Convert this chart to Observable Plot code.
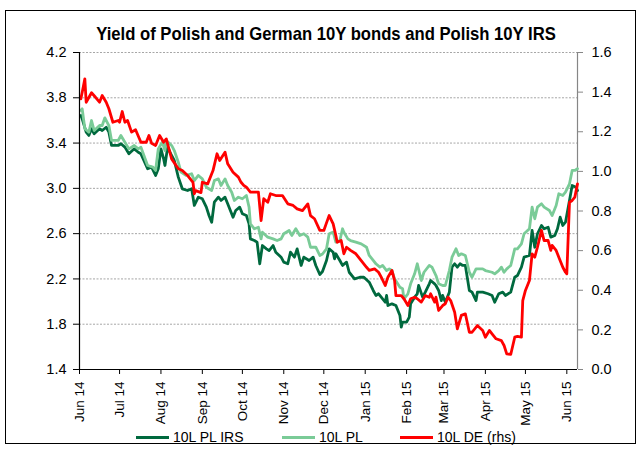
<!DOCTYPE html>
<html><head><meta charset="utf-8">
<script src="https://cdn.jsdelivr.net/npm/d3@7"></script>
<script src="https://cdn.jsdelivr.net/npm/@observablehq/plot@0.6"></script>
<style>
body{margin:0;background:#fff;font-family:"Liberation Sans",Arial,sans-serif;color:#000;}
#frame{position:absolute;left:5px;top:10px;width:631px;height:434px;border:1px solid #000;box-sizing:border-box;}
#title{position:absolute;left:0;width:652px;top:23px;text-align:center;font-weight:bold;font-size:18.5px;line-height:22px;transform:scaleX(0.9);transform-origin:326px 0;}
#chart{position:absolute;left:0;top:0;}
.leg{position:absolute;top:428px;height:18px;display:flex;align-items:center;font-size:14px;white-space:nowrap;}
.leg .sw{display:inline-block;width:33px;height:3px;margin-right:4px;}
</style>
</head><body>
<div id="frame"></div>
<div id="title"></div>
<div id="chart"></div>
<div id="legend"></div>
<script>
const titleText = "Yield of Polish and German 10Y bonds and Polish 10Y IRS";
const seriesNames = ["10L PL IRS", "10L PL", "10L DE (rhs)"];
const seriesColors = ["#00693e", "#7acb97", "#ff0000"];
const legendLeft = [136, 282, 400];

const leftTicks = [1.4, 1.8, 2.2, 2.6, 3.0, 3.4, 3.8, 4.2];
const rightTicks = [0.0, 0.2, 0.4, 0.6, 0.8, 1.0, 1.2, 1.4, 1.6];
const monthLabels = ["Jun 14","Jul 14","Aug 14","Sep 14","Oct 14","Nov 14","Dec 14","Jan 15","Feb 15","Mar 15","Apr 15","May 15","Jun 15"];
const monthStarts = [[2014,5],[2014,6],[2014,7],[2014,8],[2014,9],[2014,10],[2014,11],[2015,0],[2015,1],[2015,2],[2015,3],[2015,4],[2015,5]];

// days counted from 2014-06-01
const xEndDay = 373;
const irsDay = [1,2,5,7,9,11,15,17,20,22,24,29,31,34,37,41,44,46,51,54,57,59,61,63,64,66,69,71,74,77,81,84,86,89,92,95,97,99,101,104,106,109,111,115,117,120,122,125,127,128,131,133,135,137,140,142,145,147,151,153,156,158,161,163,166,168,172,175,177,180,182,185,187,190,191,192,195,197,200,202,206,210,213,217,220,222,224,226,229,230,231,234,237,240,241,242,245,247,248,251,253,254,257,259,262,263,266,267,269,271,272,274,277,279,281,283,285,287,289,292,294,297,298,302,306,309,311,314,317,319,323,326,328,331,333,337,339,341,343,346,348,351,353,356,358,360,362,364,367,369,372,373];
const irsVal = [3.644,3.614,3.496,3.467,3.526,3.482,3.526,3.511,3.540,3.496,3.379,3.379,3.394,3.364,3.305,3.349,3.319,3.305,3.173,3.187,3.114,3.173,3.349,3.261,3.202,3.364,3.290,3.246,3.099,2.996,2.981,2.996,2.849,2.922,2.908,2.834,2.760,2.701,2.878,2.922,2.893,2.922,2.864,2.745,2.804,2.834,2.775,2.760,2.687,2.554,2.539,2.525,2.334,2.495,2.466,2.451,2.495,2.436,2.392,2.348,2.334,2.436,2.392,2.466,2.319,2.392,2.363,2.392,2.319,2.239,2.266,2.363,2.466,2.436,2.378,2.422,2.363,2.319,2.348,2.259,2.201,2.215,2.215,2.171,2.098,2.054,2.069,2.039,1.994,2.054,1.965,1.980,1.965,1.877,1.774,1.818,1.818,1.862,1.980,2.039,2.069,2.142,2.039,2.083,2.157,2.186,2.157,2.142,2.098,2.009,2.054,1.994,2.083,2.304,2.334,2.304,2.334,2.319,2.319,2.098,2.083,2.009,2.083,2.083,2.069,2.054,1.994,2.069,2.083,2.054,2.083,2.215,2.230,2.304,2.392,2.407,2.628,2.480,2.599,2.672,2.643,2.657,2.569,2.584,2.643,2.745,2.672,2.701,2.893,3.025,3.010,2.981];

const plDay = [1,2,4,7,9,11,15,17,19,22,24,29,31,34,37,41,44,46,51,55,57,59,62,64,65,69,71,74,76,80,84,86,89,92,95,99,101,104,106,109,111,114,116,119,122,125,127,128,131,134,136,137,141,145,148,151,153,157,159,162,165,168,171,173,177,180,182,185,187,190,192,195,197,198,201,203,207,211,215,217,220,222,225,227,230,232,234,236,240,242,243,246,248,251,253,256,258,262,264,267,269,272,274,277,279,282,284,286,289,292,294,297,302,304,309,311,314,316,318,320,323,326,328,331,333,337,339,341,343,346,348,352,354,357,359,362,364,367,369,371,373];
const plVal = [3.688,3.703,3.526,3.496,3.599,3.511,3.555,3.555,3.623,3.555,3.423,3.423,3.467,3.408,3.349,3.379,3.349,3.364,3.202,3.187,3.158,3.349,3.408,3.334,3.423,3.379,3.334,3.231,3.143,3.114,3.129,3.069,3.114,3.084,3.010,2.981,3.069,3.084,3.025,3.084,3.025,2.966,2.893,2.922,2.908,2.937,2.834,2.687,2.643,2.657,2.554,2.613,2.569,2.554,2.539,2.554,2.599,2.628,2.584,2.643,2.584,2.599,2.569,2.480,2.480,2.407,2.420,2.466,2.599,2.613,2.525,2.539,2.643,2.613,2.554,2.539,2.525,2.510,2.480,2.407,2.363,2.334,2.304,2.319,2.274,2.289,2.274,2.201,2.127,2.113,2.024,2.069,2.157,2.245,2.334,2.186,2.259,2.319,2.304,2.230,2.157,2.142,2.142,2.274,2.392,2.466,2.407,2.422,2.407,2.259,2.215,2.289,2.289,2.274,2.259,2.245,2.274,2.304,2.259,2.289,2.319,2.466,2.466,2.510,2.599,2.643,2.834,2.731,2.834,2.864,2.834,2.804,2.760,2.849,2.952,2.937,2.966,3.040,3.158,3.158,3.173];

const deDay = [1,2,4,5,9,12,15,17,20,22,25,29,30,32,34,36,39,42,46,50,52,54,57,60,63,65,69,74,77,81,85,86,87,91,92,96,100,103,105,109,111,115,119,121,123,125,128,134,136,138,141,143,147,152,156,160,163,167,171,173,176,180,183,185,187,190,192,193,196,198,200,203,207,211,215,217,221,224,226,229,231,234,236,237,241,243,246,248,251,253,256,259,262,263,266,267,269,272,274,276,278,281,283,286,289,292,294,298,302,304,307,309,312,316,318,320,323,326,328,331,332,334,337,339,341,343,346,348,351,353,354,357,359,362,364,365,367,369,371,373];
const deVal = [1.366,1.398,1.467,1.349,1.397,1.374,1.349,1.383,1.349,1.316,1.248,1.257,1.248,1.302,1.248,1.257,1.198,1.210,1.147,1.147,1.181,1.142,1.131,1.181,1.147,1.164,1.063,1.013,1.004,0.979,0.945,0.887,0.903,0.893,0.945,0.937,1.004,1.089,1.055,1.097,1.038,0.996,0.971,0.945,0.929,0.920,0.895,0.895,0.752,0.862,0.844,0.887,0.878,0.878,0.836,0.828,0.811,0.802,0.836,0.777,0.761,0.702,0.702,0.740,0.777,0.735,0.676,0.642,0.651,0.584,0.617,0.601,0.584,0.550,0.516,0.500,0.508,0.491,0.466,0.424,0.466,0.500,0.449,0.373,0.373,0.357,0.323,0.357,0.365,0.357,0.340,0.373,0.365,0.382,0.340,0.365,0.298,0.323,0.332,0.365,0.348,0.289,0.205,0.273,0.281,0.188,0.188,0.222,0.197,0.163,0.197,0.180,0.155,0.146,0.121,0.079,0.076,0.163,0.167,0.163,0.348,0.399,0.449,0.584,0.567,0.617,0.702,0.651,0.651,0.601,0.626,0.601,0.567,0.516,0.491,0.483,0.844,0.853,0.870,0.937];

const startMs = Date.UTC(2014, 5, 1);
const toDate = day => new Date(startMs + day * 864e5);
// right axis (0..1.6) mapped onto left axis (1.4..4.2)
const lMin = leftTicks[0], lMax = leftTicks[leftTicks.length - 1];
const rMin = rightTicks[0], rMax = rightTicks[rightTicks.length - 1];
const toLeft = r => lMin + (r - rMin) / (rMax - rMin) * (lMax - lMin);
const fromLeft = v => rMin + (v - lMin) / (lMax - lMin) * (rMax - rMin);

const irs = irsDay.map((d, i) => ({date: toDate(d), v: irsVal[i]}));
const pl = plDay.map((d, i) => ({date: toDate(d), v: plVal[i]}));
const de = deDay.map((d, i) => ({date: toDate(d), v: toLeft(deVal[i])}));
const monthDates = monthStarts.map(([y, m]) => new Date(Date.UTC(y, m, 1)));
const monthLabelOf = new Map(monthDates.map((d, i) => [+d, monthLabels[i]]));

const chart = Plot.plot({
  width: 642, height: 420,
  marginLeft: 79, marginRight: 65, marginTop: 52, marginBottom: 51,
  style: {fontFamily: '"Liberation Sans", Arial, sans-serif', fontSize: "14px", color: "#000", background: "transparent", overflow: "visible"},
  x: {type: "utc", domain: [toDate(0), toDate(xEndDay)]},
  y: {domain: [lMin, lMax]},
  marks: [
    Plot.gridY(leftTicks.slice(1), {stroke: "#a6a6a6", strokeOpacity: 1, strokeDasharray: "2,1.5", strokeWidth: 1}),
    Plot.ruleX([toDate(xEndDay)], {stroke: "#868686", strokeWidth: 1.2}),
    Plot.axisY(leftTicks, {anchor: "left", tickSize: 6, tickPadding: 7, tickFormat: d => d.toFixed(1), fontSize: 14.5, label: null, stroke: "#000", fill: "#000"}),
    Plot.axisY(rightTicks.map(toLeft), {anchor: "right", tickSize: 5, tickPadding: 9, tickFormat: v => fromLeft(v).toFixed(1), fontSize: 14.5, label: null, stroke: "#868686", fill: "#000"}),
    Plot.axisX(monthDates, {anchor: "bottom", tickSize: 5, tickPadding: 7, tickRotate: -90, tickFormat: d => monthLabelOf.get(+d), fontSize: 13.5, label: null, stroke: "#000", fill: "#000"}),
    Plot.line(irs, {x: "date", y: "v", stroke: seriesColors[0], strokeWidth: 2.8}),
    Plot.line(pl, {x: "date", y: "v", stroke: seriesColors[1], strokeWidth: 2.8}),
    Plot.line(de, {x: "date", y: "v", stroke: seriesColors[2], strokeWidth: 2.8}),
    Plot.ruleX([toDate(0)], {stroke: "#000", strokeWidth: 1.2}),
    Plot.ruleY([lMin], {stroke: "#000", strokeWidth: 1.2})
  ]
});
document.getElementById("chart").appendChild(chart);
document.getElementById("title").textContent = titleText;

const legend = document.getElementById("legend");
seriesNames.forEach((name, i) => {
  const item = document.createElement("div");
  item.className = "leg";
  item.style.left = legendLeft[i] + "px";
  const sw = document.createElement("span");
  sw.className = "sw";
  sw.style.background = seriesColors[i];
  const tx = document.createElement("span");
  tx.textContent = name;
  item.appendChild(sw); item.appendChild(tx);
  legend.appendChild(item);
});
</script>
</body></html>
